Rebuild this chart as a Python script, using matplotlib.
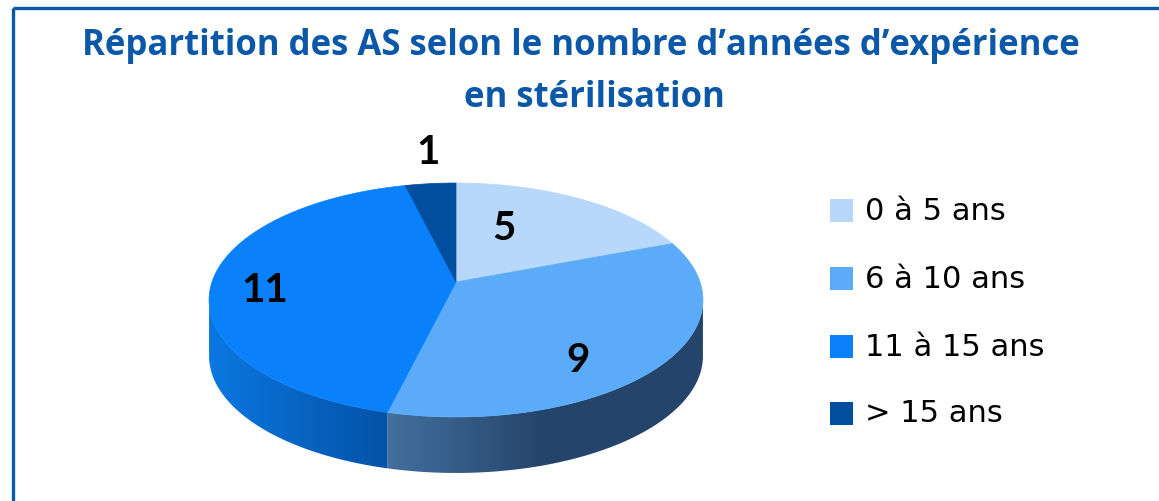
import numpy as np
import matplotlib
matplotlib.use('Agg')
import matplotlib.pyplot as plt
from matplotlib.patches import Polygon, Rectangle
from matplotlib.colors import LinearSegmentedColormap

# data
categories = ['0 à 5 ans', '6 à 10 ans', '11 à 15 ans', '> 15 ans']
values = [5, 9, 11, 1]
title_lines = ['Répartition des AS selon le nombre d\u2019années d\u2019expérience',
               'en stérilisation']

# styles
top_colors = ['#B7D8FA', '#5BABF8', '#0A81FA', '#004F9F']
side_stops = [
    ['#8FB6DE', '#5F86AE'],
    ['#43709F', '#24446A', '#24456B'],
    ['#0B78E2', '#0452A6'],
    ['#003F80', '#003060'],
]
label_pos = [(504, 228), (578, 360), (265, 290), (428, 152)]
blue = '#0B57A8'

W, H = 1159, 501
CX, CY = 456, 282       # pie centre on screen (px)
A, B, K = 244, 114.2, 0.1538   # perspective ellipse params
DEPTH = 56

fig = plt.figure(figsize=(W / 100, H / 100), dpi=100)
ax = fig.add_axes([0, 0, 1, 1])
ax.axis('off')


def proj(t, drop=0.0):
    u, v = np.cos(t), np.sin(t)
    w = 1 + K * v
    return CX + A * u / w, CY - B * v / w + drop


# slice angles, clockwise from top
total = sum(values)
starts = []
a = 90.0
for val in values:
    starts.append((a, a - 360.0 * val / total))
    a -= 360.0 * val / total

# side walls (front half only), horizontal gradient clipped to the wall
front = np.degrees(np.arcsin(K))
f_lo, f_hi = -180 + front, -front
for i, (a1, a2) in enumerate(starts):
    lo, hi = a2, a1
    cmap = LinearSegmentedColormap.from_list('s%d' % i, side_stops[i])
    for shift in (-360, 0, 360):
        s_lo, s_hi = max(lo, f_lo + shift), min(hi, f_hi + shift)
        if s_hi <= s_lo:
            continue
        ts = np.radians(np.linspace(s_lo, s_hi, 150))
        xt, yt = proj(ts)
        pts = list(zip(xt, yt)) + list(zip(xt[::-1], yt[::-1] + DEPTH))
        wall = Polygon(pts, closed=True, facecolor='none', edgecolor='none')
        ax.add_patch(wall)
        x0, x1 = xt.min() - 1, xt.max() + 1
        grad = np.linspace(0, 1, 256).reshape(1, -1)
        im = ax.imshow(grad, cmap=cmap, aspect='auto', interpolation='bilinear',
                       extent=[x0, x1, yt.max() + DEPTH + 2, yt.min() - 2], zorder=2)
        im.set_clip_path(wall)

ax.set_xlim(0, W)
ax.set_ylim(H, 0)

# top faces
for i, (a1, a2) in enumerate(starts):
    ts = np.radians(np.linspace(a1, a2, 200))
    xs, ys = proj(ts)
    pts = [(CX, CY)] + list(zip(xs, ys))
    ax.add_patch(Polygon(pts, closed=True, facecolor=top_colors[i],
                         edgecolor=top_colors[i], linewidth=0.5, zorder=3))

# value labels
for (x, y), val in zip(label_pos, values):
    ax.text(x, y, str(val), ha='center', va='center', fontsize=29,
            fontweight='bold', family='Lato', color='black', zorder=5)

# title
for line, x, y in zip(title_lines, [581, 594], [55, 107]):
    ax.text(x, y, line, ha='center', va='baseline', fontsize=25, fontweight='bold',
            family='Open Sans', color=blue)

# legend
leg_y = [210, 278, 346, 413]
for lab, col, y in zip(categories, top_colors, leg_y):
    ax.add_patch(Rectangle((830, y - 11.5), 23, 23, facecolor=col, edgecolor='none'))
    ax.text(865, y + 1, lab, ha='left', va='center', fontsize=22,
            family='DejaVu Sans', color='black')

# frame
ax.add_patch(Rectangle((12.5, 7.5), W + 20, H + 20, facecolor='none',
                       edgecolor=blue, linewidth=2.4, zorder=6))

fig.savefig('out.png', dpi=100)
